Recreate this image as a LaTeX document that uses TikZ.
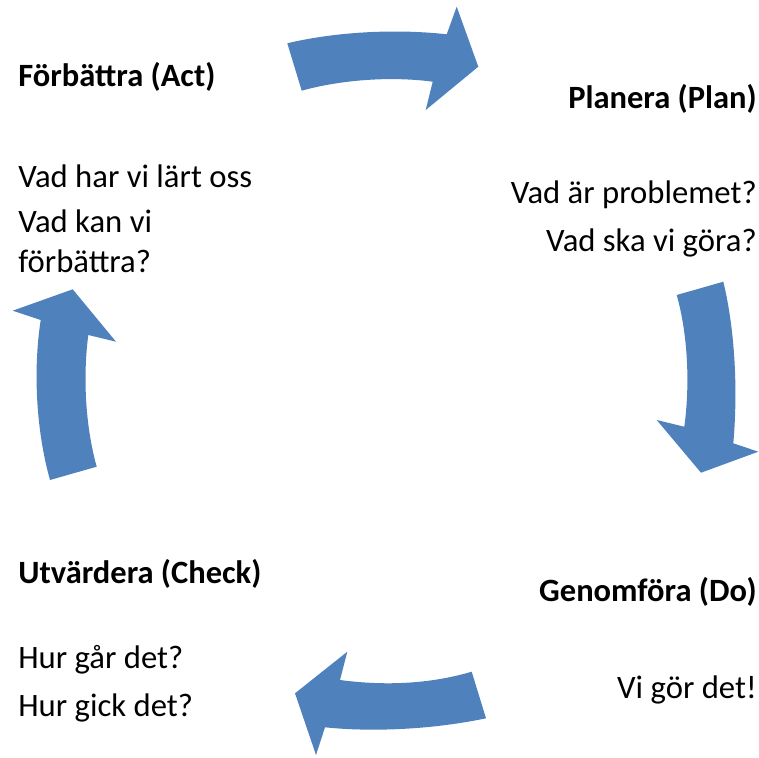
\documentclass[tikz,border=0pt]{standalone}
\usepackage{fontspec}
\setmainfont{Carlito}
\definecolor{pdcablue}{HTML}{4F81BD}

\begin{document}
\begin{tikzpicture}[x=0.02cm, y=-0.02cm]
        \tikzstyle{heading} = [inner sep=0pt, font=\fontsize{18.5}{22.7}\selectfont\bfseries]
        \tikzstyle{question} = [inner sep=0pt, font=\fontsize{18.6}{22.7}\selectfont]
        \tikzstyle{cyclearrow} = [fill=pdcablue, draw=none]

        \useasboundingbox (0,0) rectangle (759,757);

        % Act
        \node (act) [heading, anchor=base west] at (18,87) {Förbättra (Act)};
        \node (actq1) [question, anchor=base west] at (18,187) {Vad har vi lärt oss};
        \node (actq2) [question, anchor=base west, align=left] at (18,272) {Vad kan vi\\förbättra?};

        % Plan
        \node (plan) [heading, anchor=base east] at (757,108) {Planera (Plan)};
        \node (planq1) [question, anchor=base east] at (757,203) {Vad är problemet?};
        \node (planq2) [question, anchor=base east] at (757,251) {Vad ska vi göra?};

        % Do
        \node (do) [heading, anchor=base east] at (757,601) {Genomföra (Do)};
        \node (doq1) [question, anchor=base east] at (757,698) {Vi gör det!};

        % Check
        \node (check) [heading, anchor=base west] at (18,583) {Utvärdera (Check)};
        \node (checkq1) [question, anchor=base west] at (18,668) {Hur går det?};
        \node (checkq2) [question, anchor=base west] at (18,716) {Hur gick det?};

        % the four curved arrows
        \fill [cyclearrow] (287.3,43.3) .. controls (330,33) and (390,28) .. (446.7,34.3)
            -- (456.7,6.7) -- (478.3,66.7) -- (425.7,110) -- (432.7,81.7)
            .. controls (390,76) and (340,80) .. (301.7,90.7) -- cycle;
        \fill [cyclearrow] (676.7,295) -- (723.3,281.7) .. controls (735,330) and (738,390) .. (733.3,443.3)
            -- (758.3,451.7) -- (701,472.7) -- (656.7,420) -- (684.3,426.7)
            .. controls (690,385) and (688,335) .. (676.7,295) -- cycle;
        \fill [cyclearrow] (471.7,671.7) -- (486,718.3) .. controls (430,730) and (370,732) .. (325,727.3)
            -- (316,755) -- (295,693.3) -- (347.3,651.7) -- (340,680)
            .. controls (385,686) and (430,684) .. (471.7,671.7) -- cycle;
        \fill [cyclearrow] (50,480) -- (96.7,466.7) .. controls (85,425) and (83,375) .. (88.3,335)
            -- (116,341.7) -- (72.7,289.3) -- (12.7,310.7) -- (40.7,320)
            .. controls (33,370) and (36,430) .. (50,480) -- cycle;
    \end{tikzpicture}
\end{document}
